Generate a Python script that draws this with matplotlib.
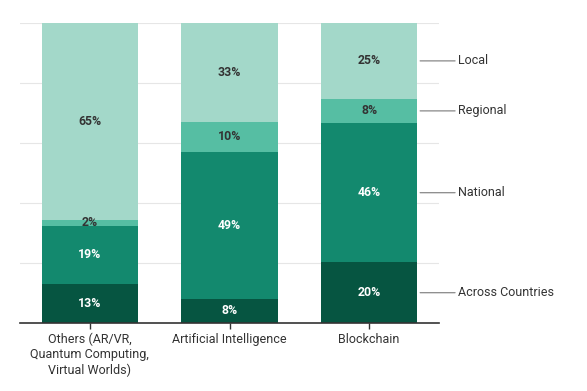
import matplotlib
matplotlib.use("Agg")
import matplotlib.pyplot as plt
import numpy as np

plt.rcParams['font.family'] = ['Roboto', 'DejaVu Sans']

categories = ["Others (AR/VR,\nQuantum Computing,\nVirtual Worlds)", "Artificial Intelligence", "Blockchain"]
series_names = ["Across Countries", "National", "Regional", "Local"]
across = [13, 8, 20]
national = [19, 49, 46]
regional = [2, 10, 8]
local = [65, 33, 25]
colors = ["#065541", "#13896e", "#56bea3", "#a3d8c9"]
text_colors = ["white", "white", "#333333", "#333333"]

series = [across, national, regional, local]
vals = np.array(series, dtype=float)
totals = vals.sum(axis=0)
shares = vals / totals * 100  # stacked to 100%

fig = plt.figure(figsize=(5.87, 3.91), dpi=100)
fig.patch.set_facecolor("white")
ax = fig.add_axes([20/587, 68/391, 419/587, 300/391])

x = np.arange(len(categories))
bottom = np.zeros(len(categories))
width = 0.69
for i, name in enumerate(series_names):
    ax.bar(x, shares[i], width, bottom=bottom, color=colors[i], edgecolor="none", zorder=2)
    for j in range(len(categories)):
        ax.text(x[j], bottom[j] + shares[i][j] / 2, f"{series[i][j]}%", ha="center", va="center",
                fontsize=8.8, color=text_colors[i], fontweight="bold", zorder=3)
    yc = bottom[-1] + shares[i][-1] / 2
    ax.annotate(name, xy=(x[-1] + width / 2, yc), xycoords="data",
                xytext=(x[-1] + width / 2 + 0.29, yc), textcoords="data",
                ha="left", va="center", fontsize=9, color="#333333",
                arrowprops=dict(arrowstyle="-", color="#888888", lw=0.9, shrinkA=0, shrinkB=2),
                annotation_clip=False)
    bottom += shares[i]

ax.set_xlim(-0.5, 2.5)
ax.set_ylim(0, 100)
ax.set_yticks([20, 40, 60, 80, 100])
ax.yaxis.grid(True, color="#e6e6e6", lw=0.8, zorder=0)
ax.tick_params(axis="y", length=0, labelleft=False)
ax.set_xticks(x)
ax.set_xticklabels(categories, fontsize=9, color="#333333")
ax.tick_params(axis="x", length=4, width=1, color="#333333", pad=3)
for s in ["top", "right", "left"]:
    ax.spines[s].set_visible(False)
ax.spines["bottom"].set_color("#333333")
ax.spines["bottom"].set_linewidth(1.2)
ax.spines["bottom"].set_zorder(4)
ax.set_axisbelow(True)

fig.savefig("out.png", dpi=100)
